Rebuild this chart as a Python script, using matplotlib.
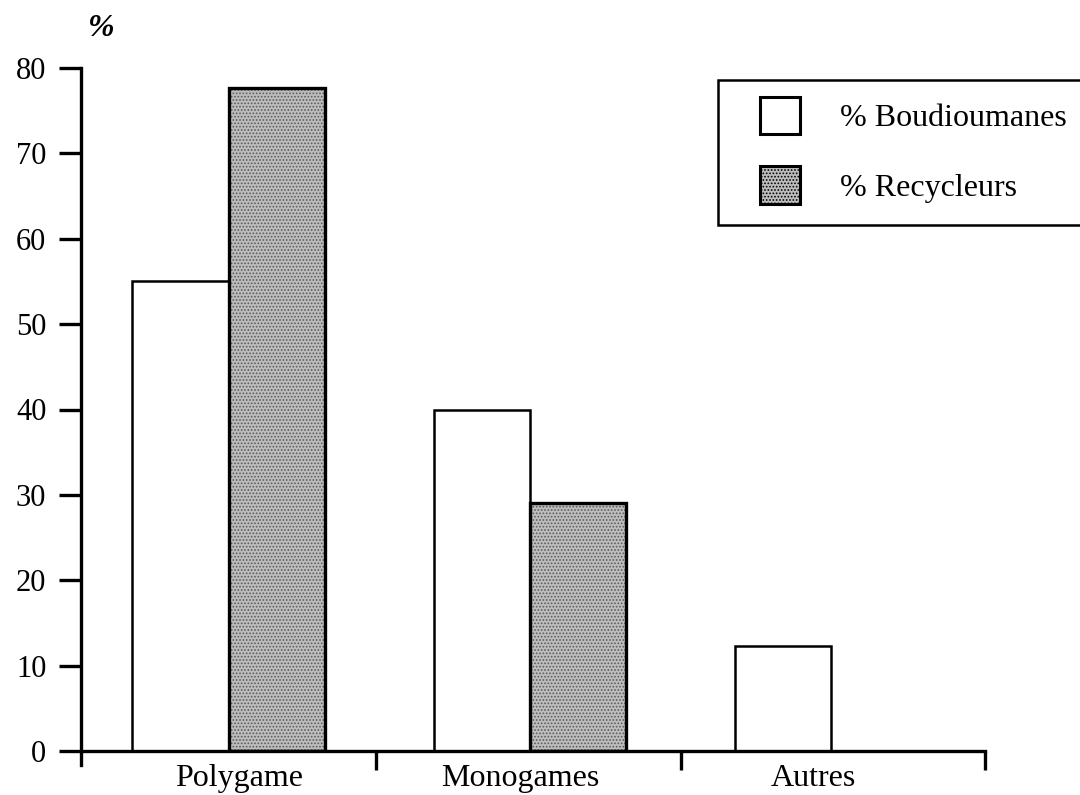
import matplotlib
matplotlib.use("Agg")
import matplotlib.pyplot as plt
from matplotlib.patches import Patch, Rectangle
import numpy as np

categories = ["Polygame", "Monogames", "Autres"]
boudioumanes = [55.0, 39.9, 12.3]
recycleurs = [77.6, 29.0, None]
yticks = [0, 10, 20, 30, 40, 50, 60, 70, 80]

plt.rcParams['font.family'] = ['Liberation Serif', 'DejaVu Serif']
plt.rcParams['hatch.color'] = '#5a5a5a'
plt.rcParams['hatch.linewidth'] = 0.8
fig = plt.figure(figsize=(10.8, 7.95), dpi=100)
ax = fig.add_axes([81/1080, 1-751/795, (985-81)/1080, (751-68)/795])

x = np.arange(len(categories)) + 0.5
w = 0.32
grey = '#bdbdbd'
for i, v in enumerate(boudioumanes):
    ax.bar(x[i] - 0.17, v, width=w, facecolor='white', edgecolor='black', linewidth=1.8, zorder=2)
for i, v in enumerate(recycleurs):
    if v is None:
        continue
    ax.bar(x[i] + 0.15, v, width=w, facecolor=grey, edgecolor='#5a5a5a', hatch='.....',
           linewidth=0, zorder=2)
    ax.bar(x[i] + 0.15, v, width=w, facecolor='none', edgecolor='black', linewidth=2.4, zorder=3)

ax.set_xlim(0, 3)
ax.set_ylim(0, 80)
for s in ['top', 'right']:
    ax.spines[s].set_visible(False)
ax.spines['left'].set_linewidth(2.4)
ax.spines['bottom'].set_linewidth(2.4)
ax.spines['left'].set_bounds(-1.6, 80)
ax.set_yticks(yticks)
ax.set_yticklabels([str(t) for t in yticks], fontsize=22)
ax.tick_params(axis='y', direction='out', length=16, width=2.4, pad=9)
ax.set_xticks([0.98, 1.99, 3])
ax.set_xticklabels([])
ax.tick_params(axis='x', direction='out', length=14, width=2.4)
label_pos = [0.524, 1.457, 2.429]
for p, c in zip(label_pos, categories):
    ax.text(p, -1.5, c, ha='center', va='top', fontsize=23, transform=ax.transData, clip_on=False)

fig.text(101/1080, 1-29/795, '%', fontsize=23, fontweight='bold', fontstyle='italic',
         ha='center', va='center')

# legend frame
fig.add_artist(Rectangle((718/1080, 1-225/795), 380/1080, 145/795, transform=fig.transFigure,
                         facecolor='white', edgecolor='black', linewidth=1.8, clip_on=False))
handles = [Patch(facecolor='white', edgecolor='black', linewidth=2.2),
           Patch(facecolor=grey, edgecolor='black', linewidth=2.2, hatch='.....')]
leg = fig.legend(handles, ['% Boudioumanes', '% Recycleurs'], loc='upper left',
                 bbox_to_anchor=(760/1080, 1-97/795), fontsize=23, frameon=False,
                 handlelength=1.25, handleheight=1.42,
                 handletextpad=1.25, borderpad=0, labelspacing=1.0, borderaxespad=0)
fig.savefig('out.png', dpi=100)
